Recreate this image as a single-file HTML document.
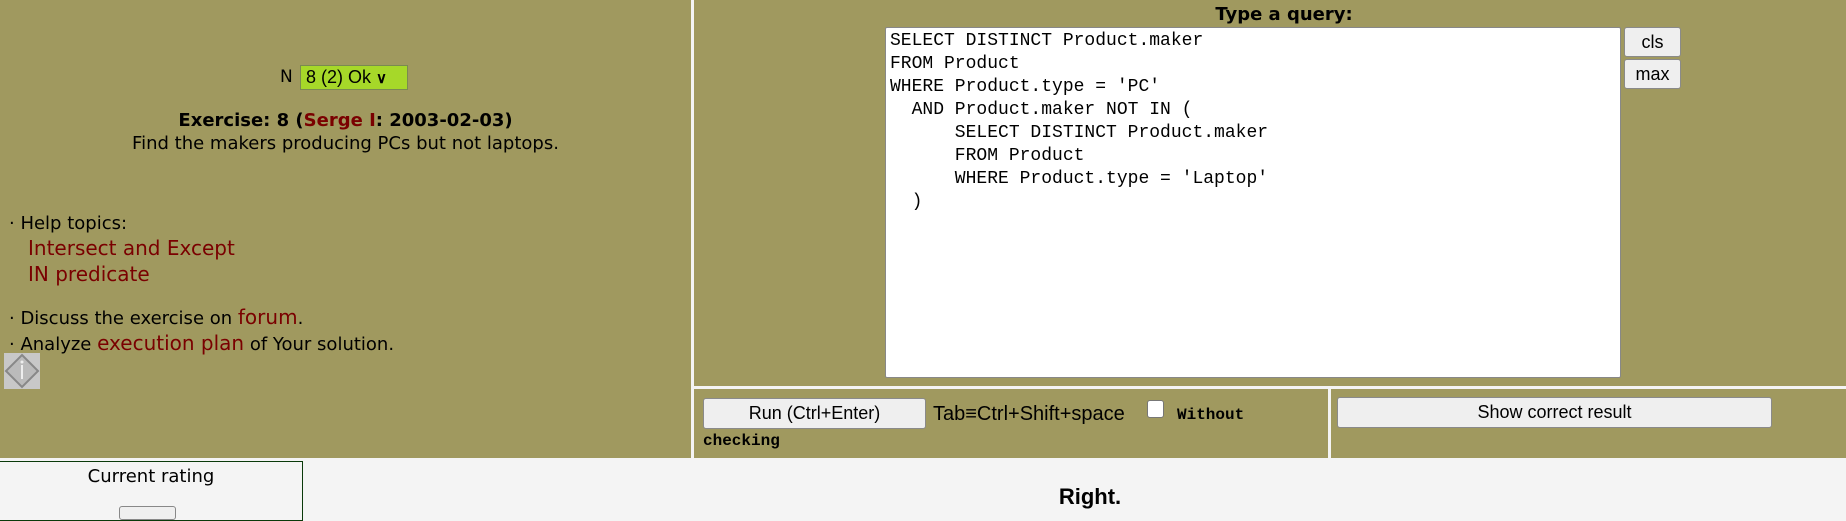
<!DOCTYPE html>
<html><head><meta charset="utf-8"><style>
*{margin:0;padding:0;box-sizing:border-box}
body{width:1846px;height:514px;overflow:hidden;background:#f4f4f4;font-family:"DejaVu Sans",sans-serif;position:relative;color:#000}
.a{position:absolute}
.ol{background:#a0995f}
.lnk{color:#7a0000}
.btn{position:absolute;background:#efefef;border:1px solid #8a8a8a;border-radius:3px;font-family:"Liberation Sans",sans-serif;font-size:18px;text-align:center}
.code{font-family:"Liberation Mono",monospace;font-size:18px;line-height:23px;white-space:pre}
</style></head><body>
<div class="a ol" style="left:0;top:0;width:691px;height:458px"></div>
<div class="a ol" style="left:694px;top:0;width:1152px;height:386px"></div>
<div class="a ol" style="left:694px;top:389px;width:634px;height:69px"></div>
<div class="a ol" style="left:1331px;top:389px;width:515px;height:69px"></div>

<div class="a" style="left:280px;top:67px;font-size:17px">N</div>
<div class="a" style="left:300px;top:65px;width:108px;height:25px;background:#a6d829;border:1px solid #7a8a50;font-family:'Liberation Sans',sans-serif;font-size:18px;padding-left:5px;line-height:23px">8 (2) Ok <span style="font-size:15px;font-weight:bold">&#8744;</span></div>
<div class="a" style="left:0;width:691px;top:110px;text-align:center;font-size:18px;font-weight:bold">Exercise: 8 (<span class="lnk">Serge I</span>: 2003-02-03)</div>
<div class="a" style="left:0;width:691px;top:133px;text-align:center;font-size:18px">Find the makers producing PCs but not laptops.</div>
<div class="a" style="left:9px;top:212px;font-size:18px;line-height:24px">· Help topics:<br><span class="lnk" style="margin-left:19px;font-size:20px">Intersect and Except</span><br><span class="lnk" style="margin-left:19px;font-size:20px">IN predicate</span></div>
<div class="a" style="left:9px;top:305px;font-size:18px;line-height:24px">· Discuss the exercise on <span class="lnk" style="font-size:20px">forum</span>.<br>· Analyze <span class="lnk" style="font-size:20px">execution plan</span> of Your solution.</div>
<div class="a" style="left:4px;top:353px;width:36px;height:36px;background:#c8c8c8">
<svg width="36" height="36"><polygon points="18,2 34,18 18,34 2,18" fill="#bbb" stroke="#888" stroke-width="2"/><line x1="18" y1="12" x2="18" y2="26" stroke="#eee" stroke-width="2"/><circle cx="18" cy="9" r="1.5" fill="#eee"/></svg></div>

<div class="a" style="left:0;top:461px;width:303px;height:60px;border:1px solid #0a3a0a;border-left:none;text-align:center;font-size:18px;padding-top:4px">Current rating</div>
<div class="a" style="left:119px;top:506px;width:57px;height:14px;border:1px solid #888;border-radius:3px;background:#efefef"></div>

<div class="a" style="left:1134px;width:300px;top:4px;text-align:center;font-size:18px;font-weight:bold">Type a query:</div>
<div class="a" style="left:885px;top:27px;width:736px;height:351px;background:#fff;border:1px solid #888;border-radius:2px"></div>
<div class="a code" style="left:890px;top:30px">SELECT DISTINCT Product.maker
FROM Product
WHERE Product.type = 'PC'
  AND Product.maker NOT IN (
      SELECT DISTINCT Product.maker
      FROM Product
      WHERE Product.type = 'Laptop'
  )</div>
<div class="btn" style="left:1624px;top:27px;width:57px;height:30px;line-height:28px">cls</div>
<div class="btn" style="left:1624px;top:59px;width:57px;height:30px;line-height:28px">max</div>

<div class="btn" style="left:703px;top:398px;width:223px;height:31px;line-height:29px">Run (Ctrl+Enter)</div>
<div class="a" style="left:933px;top:403px;font-family:'Liberation Sans',sans-serif;font-size:20px">Tab≡Ctrl+Shift+space</div>
<div class="a" style="left:1147px;top:400px;width:17px;height:18px;background:#fff;border:1px solid #777;border-radius:3px"></div>
<div class="a" style="left:1177px;top:406px;font-family:'Liberation Mono',monospace;font-size:16px;font-weight:bold">Without</div>
<div class="a" style="left:703px;top:432px;font-family:'Liberation Mono',monospace;font-size:16px;font-weight:bold">checking</div>
<div class="btn" style="left:1337px;top:397px;width:435px;height:31px;line-height:29px">Show correct result</div>

<div class="a" style="left:1040px;top:484px;width:100px;text-align:center;font-family:'Liberation Sans',sans-serif;font-size:22px;font-weight:bold">Right.</div>
</body></html>
